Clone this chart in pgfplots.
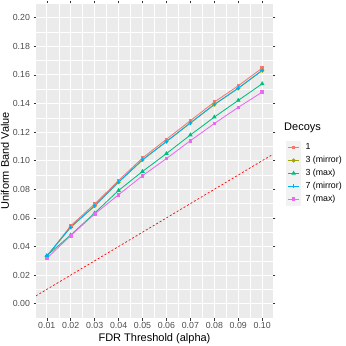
\documentclass[border=0pt]{standalone}
\usepackage{pgfplots}
\pgfplotsset{compat=1.18}
\usepackage{pgfplotstable}
\usepackage{fontspec}
\setmainfont{Liberation Sans}
\definecolor{panel}{HTML}{EBEBEB}
\definecolor{keybg}{HTML}{F2F2F2}
\definecolor{tickc}{HTML}{4D4D4D}
\definecolor{tickm}{HTML}{333333}
\definecolor{cA}{HTML}{F8766D}
\definecolor{cB}{HTML}{A3A500}
\definecolor{cC}{HTML}{00BF7D}
\definecolor{cD}{HTML}{00B0F6}
\definecolor{cE}{HTML}{E76BF3}
\pgfplotstableread{
x      s1      s3m     s3x     s7m     s7x
0.01   0.0330  0.0332  0.0336  0.0333  0.0317
0.02   0.0545  0.0534  0.0480  0.0536  0.0476
0.03   0.0697  0.0683  0.0634  0.0685  0.0627
0.04   0.0862  0.0849  0.0792  0.0851  0.0762
0.05   0.1019  0.1005  0.0925  0.1007  0.0895
0.06   0.1150  0.1133  0.1050  0.1135  0.1015
0.07   0.1280  0.1263  0.1180  0.1265  0.1140
0.08   0.1410  0.1392  0.1305  0.1394  0.1260
0.09   0.1524  0.1506  0.1422  0.1508  0.1373
0.10   0.1648  0.1630  0.1538  0.1632  0.1480
}\datatable
\pgfplotsset{
  keyimg/.style={legend image code/.code={
    \fill[keybg] (0pt,-6pt) rectangle (14pt,6pt);
    \draw[##1,mark repeat=2,mark phase=2] plot coordinates {(1.5pt,0pt) (7pt,0pt) (12.5pt,0pt)};
  }}
}
\begin{document}
\begin{tikzpicture}
\path[use as bounding box] (0pt,0pt) rectangle (346pt,346pt);
\begin{axis}[
  at={(36pt,28pt)}, anchor=south west,
  scale only axis, width=237pt, height=314.6pt,
  xmin=0.0055, xmax=0.1045, ymin=-0.01, ymax=0.21,
  axis background/.style={fill=panel},
  axis line style={draw=none},
  xtick={0.01,0.02,...,0.1001},
  minor xtick={0.005,0.015,...,0.1001},
  ytick={0,0.02,...,0.2001},
  minor ytick={-0.01,0.01,...,0.2101},
  grid=both,
  major grid style={white, line width=0.9pt},
  minor grid style={white, line width=0.45pt},
  tick align=outside,
  major tick length=2.5pt, minor tick length=0pt,
  tick style={draw=tickm, line width=0.5pt},
  xticklabel style={font=\fontsize{8.8}{10}\selectfont, text=tickc, yshift=1.5pt},
  yticklabel style={font=\fontsize{8.8}{10}\selectfont, text=tickc},
  /pgf/number format/assume math mode=true,
  xticklabel={\pgfmathprintnumber[fixed,fixed zerofill,precision=2]{\tick}},
  yticklabel={\pgfmathprintnumber[fixed,fixed zerofill,precision=2]{\tick}},
  scaled x ticks=false, scaled y ticks=false,
  xlabel={FDR Threshold (alpha)},
  ylabel={Uniform Band Value},
  label style={font=\fontsize{11}{13}\selectfont},
  xlabel style={at={(0.5,0)}, anchor=center, yshift=-21pt},
  ylabel style={at={(0,0.5)}, anchor=center, yshift=31pt},
  legend cell align=left,
  legend style={draw=none, fill=none, at={(1.0422,0.569)}, anchor=north west,
    font=\fontsize{8.8}{10}\selectfont, nodes={inner sep=0pt}, row sep=0pt, column sep=4.5pt},
  keyimg,
  every axis plot/.append style={line width=0.85pt, mark size=1.6pt},
]
\addplot[cA, mark=square*, mark size=1.3pt] table[x=x,y=s1]{\datatable};
\addlegendentry{1}
\addplot[cB, mark=*] table[x=x,y=s3m]{\datatable};
\addlegendentry{3 (mirror)}
\addplot[cC, mark=triangle*, mark size=1.8pt] table[x=x,y=s3x]{\datatable};
\addlegendentry{3 (max)}
\addplot[cD, mark=+, mark size=1.8pt] table[x=x,y=s7m]{\datatable};
\addlegendentry{7 (mirror)}
\addplot[cE, mark=square*, mark size=1.3pt] table[x=x,y=s7x]{\datatable};
\addlegendentry{7 (max)}
\addplot[red, line width=0.7pt, dash pattern=on 2pt off 2pt, forget plot] coordinates {(0.0055,0.0055) (0.1045,0.1045)};
\end{axis}
\node[anchor=west, font=\fontsize{11}{13}\selectfont, inner sep=0pt] at (284pt,218pt) {Decoys};
\end{tikzpicture}
\end{document}
